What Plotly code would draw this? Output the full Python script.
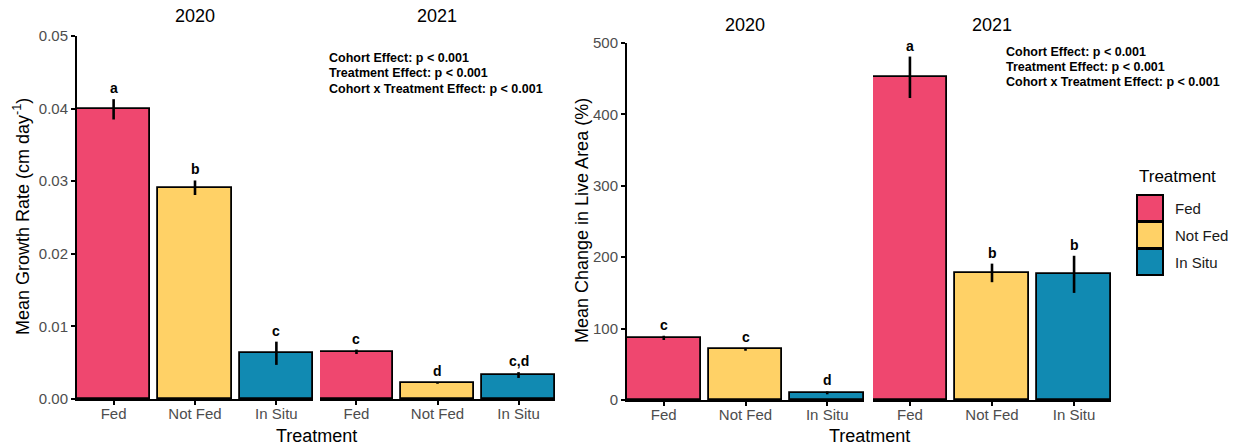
import plotly.graph_objects as go

W, H = 1238, 446

# ---- data ----
treatments = ["Fed", "Not Fed", "In Situ"]
colors = ["#EF476F", "#FFD166", "#118AB2"]
years = ["2020", "2021"]

growth_2020 = [0.0399, 0.0291, 0.0063]
growth_2020_se = [0.0014, 0.0010, 0.0016]
growth_2021 = [0.0065, 0.0022, 0.0033]
growth_2021_se = [0.0003, 0.0001, 0.0004]
growth_letters_2020 = ["a", "b", "c"]
growth_letters_2021 = ["c", "d", "c,d"]

area_2020 = [87, 71, 10]
area_2020_se = [3, 2, 2]
area_2021 = [452, 178, 176]
area_2021_se = [29, 13, 26]
area_letters_2020 = ["c", "c", "d"]
area_letters_2021 = ["a", "b", "b"]

growth_ticks = [0.00, 0.01, 0.02, 0.03, 0.04, 0.05]
growth_ticktext = ["0.00", "0.01", "0.02", "0.03", "0.04", "0.05"]
area_ticks = [0, 100, 200, 300, 400, 500]

stats_lines = [
    "Cohort Effect: p < 0.001",
    "Treatment Effect: p < 0.001",
    "Cohort x Treatment Effect: p < 0.001",
]

FONT = "Liberation Sans, Arial, sans-serif"


def px(x):
    return x / W


def py(y):
    return 1 - y / H


fig = go.Figure()

# panel layout: (xaxis id, yaxis id, values, errors, letters)
panels = [
    ("x", "y", growth_2020, growth_2020_se, growth_letters_2020),
    ("x2", "y", growth_2021, growth_2021_se, growth_letters_2021),
    ("x3", "y2", area_2020, area_2020_se, area_letters_2020),
    ("x4", "y2", area_2021, area_2021_se, area_letters_2021),
]

for xa, ya, vals, errs, letters in panels:
    fig.add_trace(go.Bar(
        x=treatments, y=vals, xaxis=xa, yaxis=ya, width=0.9,
        marker=dict(color=colors, line=dict(color="black", width=1.8)),
        error_y=dict(type="data", array=errs, visible=True, width=0,
                     thickness=2.6, color="black"),
        showlegend=False, hoverinfo="x+y",
    ))
    for t, v, e, lab in zip(treatments, vals, errs, letters):
        fig.add_annotation(
            x=t, y=v + e, xref=xa, yref=ya, text=f"<b>{lab}</b>",
            showarrow=False, xanchor="center", yanchor="bottom", yshift=1,
            font=dict(family=FONT, size=14, color="black"),
        )

xcommon = dict(
    type="category", categoryorder="array", categoryarray=treatments,
    range=[-0.45, 2.45], showline=True, linecolor="black", linewidth=2,
    ticks="outside", ticklen=4, tickwidth=1.5, tickcolor="black",
    ticklabelstandoff=-4,
    tickfont=dict(family=FONT, size=15, color="#4d4d4d"),
    showgrid=False, zeroline=False, fixedrange=True, automargin=False,
)
ycommon = dict(
    showline=True, linecolor="black", linewidth=2,
    ticks="outside", ticklen=4, tickwidth=1.5, tickcolor="black",
    tickfont=dict(family=FONT, size=15, color="#4d4d4d"),
    showgrid=False, zeroline=False, fixedrange=True, automargin=False,
)

fig.update_layout(
    width=W, height=H, margin=dict(l=0, r=0, t=0, b=0, pad=0, autoexpand=False),
    paper_bgcolor="white", plot_bgcolor="white",
    font=dict(family=FONT, color="black"),
    bargap=0,
    xaxis=dict(xcommon, domain=[px(77), px(313)], anchor="y"),
    xaxis2=dict(xcommon, domain=[px(320), px(555)], anchor="y"),
    xaxis3=dict(xcommon, domain=[px(627), px(864)], anchor="y2"),
    xaxis4=dict(xcommon, domain=[px(873), px(1111)], anchor="y2"),
    yaxis=dict(ycommon, domain=[py(399), py(36)], range=[0, 0.05],
               tickvals=growth_ticks, ticktext=growth_ticktext, anchor="x"),
    yaxis2=dict(ycommon, domain=[py(400), py(43)], range=[0, 500],
                tickvals=area_ticks, anchor="x3"),
)


def label(cx, cy, txt, size, angle=0, xanchor="center", color="black"):
    fig.add_annotation(x=px(cx), y=py(cy), xref="paper", yref="paper",
                       text=txt, showarrow=False, textangle=angle,
                       xanchor=xanchor, yanchor="middle",
                       font=dict(family=FONT, size=size, color=color))


# facet strip labels
for cx, cy, txt in [(195, 16, years[0]), (437, 16, years[1]),
                    (745, 25, years[0]), (992, 25, years[1])]:
    label(cx, cy, txt, 18)

# axis titles
label(316, 436, "Treatment", 18)
label(869, 436, "Treatment", 18)
label(22, 217, "Mean Growth Rate (cm day<sup>-1</sup>)", 18, angle=-90)
label(582, 221, "Mean Change in Live Area (%)", 18, angle=-90)

# ANOVA summary text
for x0, ys in [(327, [58, 73, 89]), (1004, [52, 67, 82])]:
    for yy, line in zip(ys, stats_lines):
        label(x0, yy, f"<b>{line}</b>", 12.5, xanchor="left")

# treatment legend
label(1137, 177, "Treatment", 17, xanchor="left")
key_top = 195
key_h = 27
for i, (t, c) in enumerate(zip(treatments, colors)):
    y0 = key_top + i * key_h
    fig.add_shape(type="rect", xref="paper", yref="paper",
                  x0=px(1137), x1=px(1163), y0=py(y0 + key_h - 1), y1=py(y0),
                  fillcolor=c, line=dict(color="black", width=2))
    label(1173, y0 + key_h / 2, t, 15, xanchor="left", color="#1a1a1a")

fig.write_html("out.html")
